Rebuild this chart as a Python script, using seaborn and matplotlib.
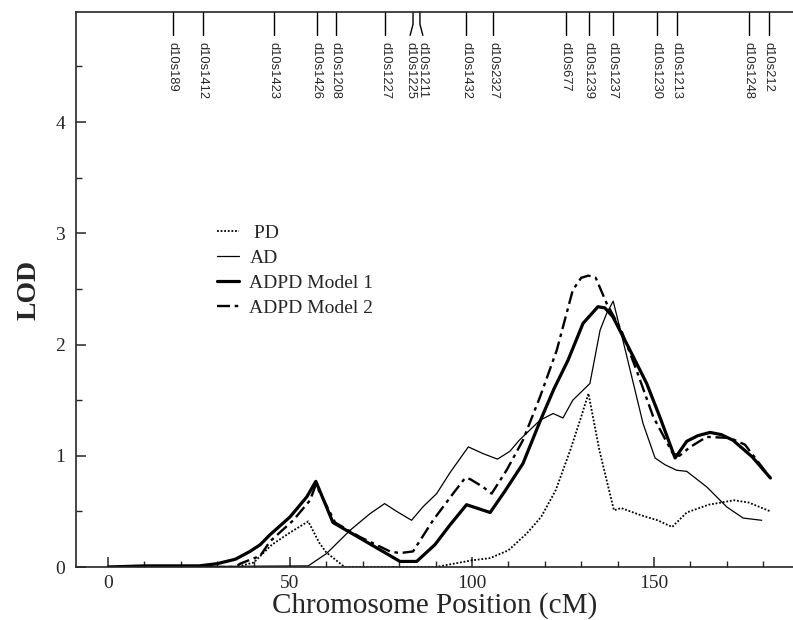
import numpy as np
import pandas as pd
import seaborn as sns
import matplotlib.pyplot as plt
from matplotlib.ticker import MultipleLocator

# LOD curves (cM, LOD)
pd_x = [0, 35, 40, 45, 50, 55, 58, 60, 65, 90, 95, 100, 105, 110, 115, 119, 123, 127, 130, 132,
        135, 139, 141, 146, 151, 155, 159, 165, 172, 176, 182]
pd_y = [0, 0, 0.04, 0.2, 0.31, 0.41, 0.22, 0.13, 0.0, 0.0, 0.03, 0.06, 0.08, 0.15, 0.30, 0.45,
        0.69, 1.05, 1.35, 1.56, 1.05, 0.51, 0.53, 0.47, 0.42, 0.36, 0.49, 0.56, 0.60, 0.58, 0.50]

ad_x = [0, 55, 60, 66.5, 72, 76, 79.3, 83.4, 86.5, 90.3, 94, 99, 103, 107, 110.4, 113, 118.7,
        122.3, 125, 127.7, 132.4, 135.2, 137, 138.8, 141, 143.9, 147, 150.3, 153, 156.2, 159,
        164.5, 170, 174.5, 179.6]
ad_y = [0, 0.01, 0.12, 0.33, 0.48, 0.57, 0.50, 0.42, 0.54, 0.66, 0.85, 1.08, 1.02, 0.97, 1.04,
        1.14, 1.32, 1.38, 1.34, 1.50, 1.65, 2.13, 2.28, 2.39, 2.10, 1.71, 1.29, 0.98, 0.92, 0.87,
        0.86, 0.72, 0.54, 0.44, 0.42]

m1_x = [0, 10, 20, 25, 30, 35, 39, 41.8, 44.5, 50, 54.6, 57.1, 61.8, 69.2, 75.5, 80.2, 84.8,
        89.8, 94, 98.5, 105, 109, 114, 118.7, 122.5, 126.4, 130.5, 134.6, 136.5, 138.7, 143.4,
        148, 151.6, 155.8, 159, 162, 165.4, 168.5, 171.7, 177, 182]
m1_y = [0, 0.01, 0.01, 0.01, 0.03, 0.07, 0.14, 0.20, 0.29, 0.45, 0.63, 0.77, 0.40, 0.26, 0.14,
        0.05, 0.05, 0.20, 0.38, 0.56, 0.49, 0.68, 0.93, 1.31, 1.60, 1.86, 2.19, 2.34, 2.33, 2.25,
        1.95, 1.65, 1.35, 0.98, 1.13, 1.18, 1.21, 1.19, 1.14, 0.99, 0.80]

m2_x = [0, 35, 36.3, 41.8, 44.5, 50.9, 55.5, 57.1, 62.4, 69.2, 77.5, 80.2, 83.8, 89.3, 94.8,
        98.1, 99.5, 103, 105.4, 109.5, 114, 118.7, 123.3, 127.7, 130, 132, 134, 137, 141, 145.2,
        149.8, 155.2, 157, 160, 164.5, 170.9, 175, 182]
m2_y = [0, 0, 0.03, 0.10, 0.23, 0.42, 0.60, 0.74, 0.40, 0.27, 0.14, 0.125, 0.14, 0.42, 0.66,
        0.80, 0.79, 0.72, 0.66, 0.87, 1.14, 1.53, 1.95, 2.49, 2.60, 2.62, 2.60, 2.37, 2.13, 1.77,
        1.35, 1.02, 1.0, 1.08, 1.17, 1.16, 1.10, 0.80]

# marker map along the top
marker_names = ["d10s189", "d10s1412", "d10s1423", "d10s1426", "d10s1208", "d10s1227",
                "d10s1225", "d10s1211", "d10s1432", "d10s2327", "d10s677", "d10s1239",
                "d10s1237", "d10s1230", "d10s1213", "d10s1248", "d10s212"]
marker_pos = [17.8, 26.0, 45.6, 57.4, 62.6, 76.1, 83.8, 85.7, 98.4, 105.8, 125.8, 132.1,
              138.7, 150.8, 156.3, 176.1, 181.6]
label_pos = [17.8, 26.0, 45.6, 57.4, 62.6, 76.1, 83.0, 86.5, 98.4, 105.8, 125.8, 132.1,
             138.7, 150.8, 156.3, 176.1, 181.6]

sns.set_style("ticks")
plt.rcParams['font.family'] = ['Liberation Serif', 'DejaVu Serif']

fig = plt.figure(figsize=(7.93, 6.2), dpi=100)
ax = fig.add_axes([76/793, 53/620, 717/793, 555/620])

sns.lineplot(x=pd_x, y=pd_y, ax=ax, color="black", lw=1.3, linestyle=(0, (1, 1)),
             label=" PD", estimator=None, sort=False)
sns.lineplot(x=ad_x, y=ad_y, ax=ax, color="black", lw=0.9,
             label="AD", estimator=None, sort=False)
sns.lineplot(x=m1_x, y=m1_y, ax=ax, color="black", lw=2.3,
             label="ADPD Model 1", estimator=None, sort=False)
sns.lineplot(x=m2_x, y=m2_y, ax=ax, color="black", lw=1.7, linestyle=(0, (5.5, 2, 1.5, 2)),
             label="ADPD Model 2", estimator=None, sort=False)

ax.set_xlim(-8.8, 188.2)
ax.set_ylim(0, 4.99)

# marker ticks hanging from the top line
for p, lp, name in zip(marker_pos, label_pos, marker_names):
    ax.plot([p, p, lp], [4.99, 4.88, 4.78], color="black", lw=1.0, clip_on=False)
    ax.text(lp, 4.72, name, rotation=270, ha="center", va="top", fontsize=9.3,
            family=["Liberation Sans", "DejaVu Sans"])

ax.xaxis.set_major_locator(MultipleLocator(50))
ax.xaxis.set_minor_locator(MultipleLocator(10))
ax.set_yticks([0, 1, 2, 3, 4])
ax.set_yticks(np.arange(0.5, 5, 1.0), minor=True)
ax.tick_params(axis="both", which="major", direction="in", length=7, width=1.1, labelsize=14)
ax.tick_params(axis="both", which="minor", direction="in", length=4, width=1.0)
ax.tick_params(axis="x", which="major", pad=6)
ax.tick_params(axis="y", which="major", pad=8)

for side in ["left", "bottom", "top"]:
    ax.spines[side].set_linewidth(1.2)
ax.spines["right"].set_visible(False)

ax.set_xlabel("Chromosome Position (cM)", fontsize=21, labelpad=0)
ax.set_ylabel("LOD", fontsize=20, fontweight="bold", labelpad=10)

ax.legend(loc="upper left", bbox_to_anchor=(0.197, 0.617), frameon=False, fontsize=14,
          handlelength=1.1, handletextpad=0.55, labelspacing=0.37, borderpad=0,
          borderaxespad=0)

fig.savefig("out.png", dpi=100)
